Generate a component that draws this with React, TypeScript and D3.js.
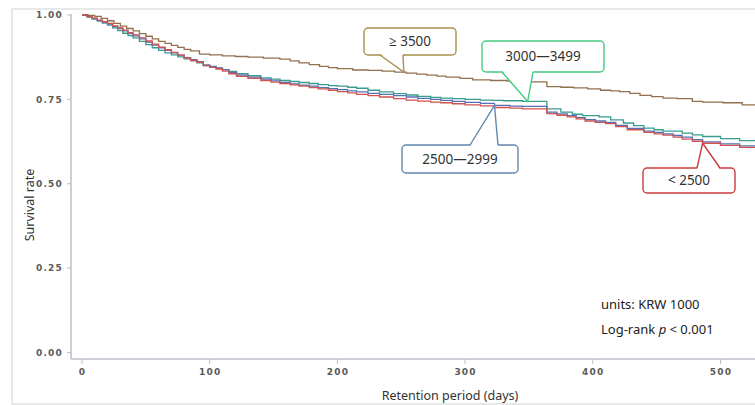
import React from 'react';
import * as d3 from 'd3';

// Kaplan-Meier curves: [day, survival]
const over3500: [number, number][] = [
  [0, 1.0], [5, 0.999], [10, 0.996], [15, 0.99], [20, 0.983], [25, 0.975], [30, 0.967],
  [35, 0.96], [40, 0.953], [45, 0.945], [50, 0.937], [55, 0.929], [60, 0.922], [65, 0.916],
  [70, 0.91], [75, 0.904], [80, 0.898], [85, 0.894], [92, 0.884], [100, 0.882], [110, 0.879],
  [120, 0.877], [130, 0.875], [142, 0.872], [155, 0.869], [163, 0.864], [170, 0.858],
  [178, 0.853], [186, 0.848], [193, 0.844], [200, 0.841], [212, 0.837], [224, 0.836],
  [235, 0.834], [245, 0.831], [254, 0.828], [262, 0.825], [270, 0.822], [278, 0.819],
  [285, 0.816], [296, 0.812], [306, 0.808], [320, 0.806], [333, 0.804], [343, 0.803],
  [352, 0.802], [364, 0.788], [375, 0.786], [385, 0.784], [396, 0.781], [406, 0.777],
  [414, 0.775], [421, 0.773], [429, 0.768], [437, 0.762], [446, 0.758], [455, 0.754],
  [466, 0.752], [478, 0.744], [486, 0.742], [502, 0.74], [517, 0.734], [530, 0.733],
];
const from3000: [number, number][] = [
  [0, 1.0], [4, 0.994], [8, 0.988], [12, 0.982], [16, 0.976], [20, 0.97], [24, 0.962],
  [28, 0.954], [32, 0.946], [36, 0.939], [40, 0.932], [45, 0.922], [50, 0.912], [55, 0.903],
  [60, 0.895], [65, 0.888], [70, 0.882], [75, 0.876], [80, 0.87], [85, 0.864], [90, 0.858],
  [95, 0.85], [100, 0.846], [105, 0.842], [110, 0.838], [115, 0.833], [121, 0.826],
  [130, 0.82], [140, 0.814], [148, 0.81], [155, 0.806], [163, 0.803], [170, 0.8],
  [178, 0.797], [185, 0.794], [193, 0.791], [200, 0.789], [208, 0.786], [215, 0.783],
  [224, 0.777], [233, 0.772], [244, 0.767], [254, 0.763], [263, 0.759], [273, 0.756],
  [281, 0.754], [290, 0.752], [300, 0.75], [312, 0.748], [321, 0.747], [330, 0.746],
  [345, 0.744], [364, 0.722], [375, 0.712], [384, 0.706], [392, 0.702], [405, 0.698],
  [414, 0.689], [424, 0.68], [432, 0.672], [440, 0.665], [448, 0.66], [455, 0.656],
  [470, 0.65], [478, 0.645], [486, 0.64], [500, 0.634], [515, 0.628], [530, 0.622],
];
const from2500: [number, number][] = [
  [0, 1.0], [4, 0.995], [8, 0.99], [12, 0.984], [16, 0.979], [20, 0.973], [24, 0.966],
  [28, 0.96], [32, 0.953], [36, 0.945], [40, 0.938], [45, 0.929], [50, 0.92], [55, 0.911],
  [60, 0.903], [65, 0.895], [70, 0.888], [75, 0.881], [80, 0.874], [85, 0.868], [90, 0.862],
  [95, 0.852], [100, 0.848], [105, 0.843], [110, 0.838], [115, 0.83], [121, 0.822],
  [130, 0.816], [140, 0.81], [148, 0.805], [155, 0.8], [163, 0.796], [170, 0.792],
  [178, 0.789], [185, 0.785], [193, 0.782], [200, 0.779], [208, 0.775], [215, 0.772],
  [224, 0.768], [233, 0.765], [244, 0.761], [254, 0.757], [263, 0.753], [273, 0.75],
  [281, 0.747], [290, 0.744], [300, 0.741], [312, 0.738], [323, 0.732], [335, 0.73],
  [345, 0.729], [364, 0.712], [372, 0.707], [380, 0.702], [387, 0.696], [394, 0.69],
  [402, 0.686], [410, 0.682], [418, 0.673], [427, 0.664], [440, 0.656], [448, 0.652],
  [455, 0.648], [463, 0.643], [470, 0.638], [478, 0.631], [486, 0.624], [500, 0.618],
  [515, 0.612], [530, 0.608],
];
const under2500: [number, number][] = [
  [0, 1.0], [4, 0.995], [8, 0.991], [12, 0.985], [16, 0.98], [20, 0.975], [24, 0.968],
  [28, 0.962], [32, 0.955], [36, 0.948], [40, 0.941], [45, 0.932], [50, 0.923], [55, 0.914],
  [60, 0.905], [65, 0.897], [70, 0.889], [75, 0.881], [80, 0.873], [85, 0.866], [90, 0.86],
  [95, 0.85], [100, 0.845], [105, 0.84], [110, 0.834], [115, 0.826], [121, 0.818],
  [130, 0.812], [140, 0.806], [148, 0.801], [155, 0.797], [163, 0.793], [170, 0.789],
  [178, 0.785], [185, 0.781], [193, 0.777], [200, 0.773], [208, 0.769], [215, 0.765],
  [224, 0.761], [233, 0.757], [244, 0.752], [254, 0.748], [263, 0.745], [273, 0.742],
  [281, 0.74], [290, 0.737], [300, 0.734], [312, 0.731], [323, 0.726], [335, 0.724],
  [345, 0.722], [364, 0.708], [372, 0.703], [380, 0.698], [387, 0.692], [394, 0.686],
  [402, 0.682], [410, 0.678], [418, 0.669], [427, 0.66], [440, 0.652], [448, 0.648],
  [455, 0.644], [463, 0.638], [470, 0.632], [478, 0.626], [486, 0.62], [500, 0.614],
  [515, 0.608], [530, 0.604],
];

const xTicks = [0, 100, 200, 300, 400, 500];
const yTicks = [0, 0.25, 0.5, 0.75, 1.0];

const series = [
  { name: '≥ 3500', data: over3500, color: '#93704f' },
  { name: '3000—3499', data: from3000, color: '#3a9c8e' },
  { name: '2500—2999', data: from2500, color: '#5470b6' },
  { name: '< 2500', data: under2500, color: '#d0534f' },
];

// callouts: which series, where the pointer touches it, and the box layout
const callouts = [
  { idx: 0, day: 252, box: [364, 28, 92, 27], base: [380, 403], border: '#a8904c' },
  { idx: 1, day: 349, box: [482, 41, 122, 31], base: [502, 533], border: '#44cc80' },
  { idx: 2, day: 323, box: [402, 145, 116, 28], base: [470, 498], border: '#6088b0' },
  { idx: 3, day: 486, box: [643, 168, 92, 25], base: [697, 720], border: '#cc3b3b' },
];

const W = 755;
const H = 405;

export default function App() {
  const x = d3.scaleLinear().domain([0, 500]).range([82, 720.5]);
  const y = d3.scaleLinear().domain([0, 1]).range([352.5, 15]);
  const line = d3.line<[number, number]>()
    .x(d => x(d[0]))
    .y(d => y(d[1]))
    .curve(d3.curveStepAfter);

  const axisColor = '#b9c0c8';
  const tickFont = { fontFamily: 'DejaVu Sans, sans-serif', fontWeight: 700, fontSize: 9, fill: '#5a5a5a', letterSpacing: 1.2 };
  const labelFont = 'Noto Sans, Open Sans, sans-serif';

  const valueAt = (data: [number, number][], day: number) => {
    let v = data[0][1];
    for (const [d, s] of data) if (d <= day) v = s;
    return v;
  };

  return (
    <svg width={W} height={H} style={{ position: 'absolute', left: 0, top: 0, background: '#fff' }}>
      <rect x={12} y={9} width={W} height={395} fill="none" stroke="#d9d9d9" strokeWidth={1.2} />

      {/* axes */}
      <line x1={71} x2={71} y1={14} y2={359} stroke={axisColor} strokeWidth={1.5} />
      <line x1={71} x2={W} y1={359} y2={359} stroke={axisColor} strokeWidth={1.5} />
      {yTicks.map(t => (
        <g key={t}>
          <line x1={67} x2={71} y1={y(t)} y2={y(t)} stroke={axisColor} strokeWidth={1} />
          <text x={63} y={y(t)} dy="0.35em" textAnchor="end" style={tickFont}>{t.toFixed(2)}</text>
        </g>
      ))}
      {xTicks.map(t => (
        <g key={t}>
          <line x1={x(t)} x2={x(t)} y1={359} y2={364} stroke={axisColor} strokeWidth={1} />
          <text x={x(t) + 0.5} y={372} dy="0.35em" textAnchor="middle" style={tickFont}>{t}</text>
        </g>
      ))}
      <text transform="translate(30,205) rotate(-90)" textAnchor="middle" dy="0.35em"
        fontFamily={labelFont} fontSize={12.5} fill="#333">Survival rate</text>
      <text x={450} y={396} textAnchor="middle" dy="0.35em"
        fontFamily={labelFont} fontSize={12.5} fill="#333">Retention period (days)</text>

      {/* curves */}
      {series.map(s => (
        <path key={s.name} d={line(s.data) || ''} fill="none" stroke={s.color} strokeWidth={1.3} />
      ))}

      {/* callouts */}
      {callouts.map(c => {
        const s = series[c.idx];
        const tx = x(c.day);
        const ty = y(valueAt(s.data, c.day));
        const [bx, by, bw, bh] = c.box;
        const below = ty > by + bh;
        const edge = below ? by + bh : by;
        const inner = below ? edge - 1.5 : edge + 1.5;
        return (
          <g key={s.name}>
            <rect x={bx} y={by} width={bw} height={bh} rx={4} fill="#fff" stroke={c.border} strokeWidth={1.4} />
            <path d={`M${c.base[0]},${inner}L${tx},${ty}L${c.base[1]},${inner}Z`} fill="#fff" stroke="none" />
            <path d={`M${c.base[0]},${edge}L${tx},${ty}L${c.base[1]},${edge}`} fill="none" stroke={c.border} strokeWidth={1.4} />
            <text x={bx + bw / 2} y={by + bh / 2} dy="0.35em" textAnchor="middle"
              fontFamily={labelFont} fontSize={13.5} fill="#333">{s.name}</text>
          </g>
        );
      })}

      <text x={601} y={304} dy="0.35em" fontFamily={labelFont} fontSize={13} fill="#222">units: KRW 1000</text>
      <text x={601} y={329} dy="0.35em" fontFamily={labelFont} fontSize={13} fill="#222">
        Log-rank <tspan fontStyle="italic">p</tspan> {'<'} 0.001
      </text>
    </svg>
  );
}
